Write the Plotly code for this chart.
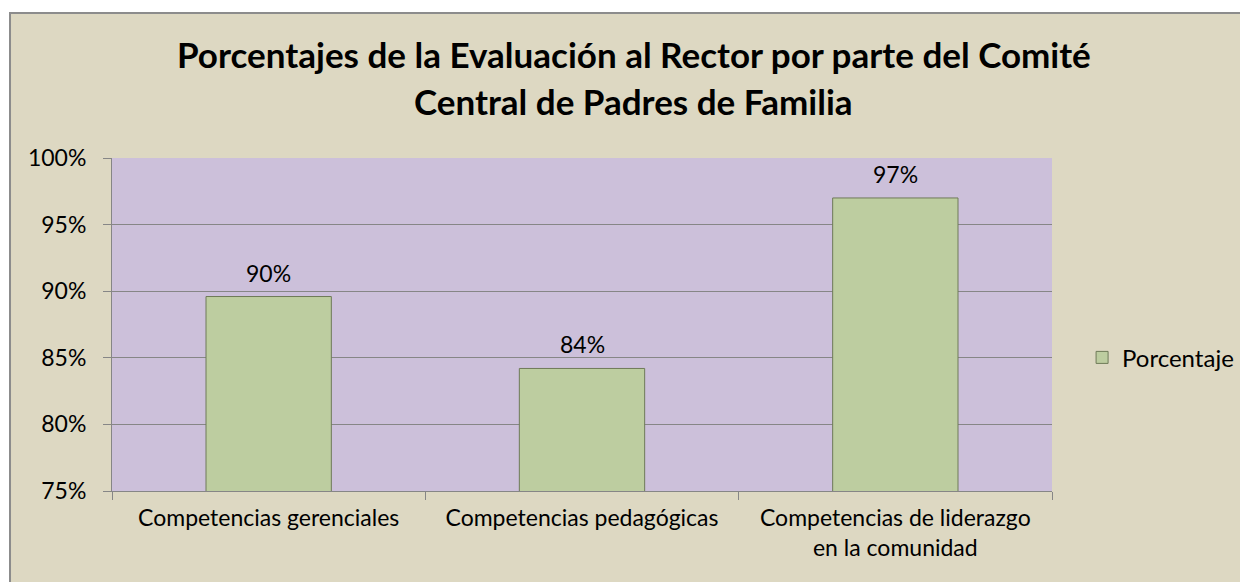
import plotly.graph_objects as go

# datos
categorias = [
    "Competencias gerenciales",
    "Competencias pedagógicas",
    "Competencias de liderazgo<br>en la comunidad",
]
porcentajes = [0.896, 0.842, 0.970]
serie = "Porcentaje"
titulo = [
    "Porcentajes de la Evaluación al Rector por parte del Comité",
    "Central de Padres de Familia",
]

FONT = "Lato"
BG_CHART = "#DDD8C2"
BG_PLOT = "#CCC0DA"
BAR_COLOR = "#BDCDA0"
GRID = "#868686"

fig = go.Figure()
fig.add_trace(go.Bar(
    x=categorias, y=porcentajes, name=serie,
    marker=dict(color=BAR_COLOR, line=dict(color="#6E7A58", width=1)),
))

# etiquetas de datos sobre las barras
for c, v in zip(categorias, porcentajes):
    fig.add_annotation(
        x=c, y=v, text=f"{v:.0%}", showarrow=False,
        yanchor="bottom", yshift=8, font=dict(size=23, color="black"),
    )

# titulo en dos lineas
for linea, ypos in zip(titulo, [1.312, 1.171]):
    fig.add_annotation(
        xref="paper", yref="paper", x=0.555, y=ypos,
        xanchor="center", yanchor="middle", showarrow=False, text=linea,
        font=dict(size=35, family=FONT, color="black", weight="bold"),
    )

# marco del grafico (fondo beige con borde gris) y fondo lila del area
fig.add_shape(
    type="rect", xref="paper", yref="paper",
    x0=-0.1085, x1=1.4, y0=-0.6, y1=1.4354,
    fillcolor=BG_CHART, line=dict(color="#8C8C8C", width=2),
    layer="below",
)
fig.add_shape(
    type="rect", xref="paper", yref="paper",
    x0=0, x1=1, y0=0, y1=1,
    fillcolor=BG_PLOT, line=dict(width=0),
    layer="below",
)

fig.update_layout(
    width=1248, height=582,
    margin=dict(l=104, r=204, t=150, b=99),
    paper_bgcolor="white",
    plot_bgcolor="rgba(0,0,0,0)",
    font=dict(family=FONT, size=23, color="black"),
    bargap=0.6,
    showlegend=True,
    legend=dict(x=1.032, y=0.40, xanchor="left", yanchor="middle",
                bgcolor="rgba(0,0,0,0)", font=dict(size=24)),
)
fig.update_yaxes(
    range=[0.75, 1.0], dtick=0.05, tickformat=".0%",
    showgrid=True, gridcolor=GRID, gridwidth=1,
    showline=True, linecolor=GRID, linewidth=1,
    ticks="outside", ticklen=8, tickcolor=GRID, ticklabelstandoff=12,
    zeroline=False,
)
fig.update_xaxes(
    showline=True, linecolor=GRID, linewidth=1,
    ticks="outside", ticklen=8, tickcolor=GRID, tickson="boundaries",
    ticklabelstandoff=6,
)

fig.write_html("out.html")
